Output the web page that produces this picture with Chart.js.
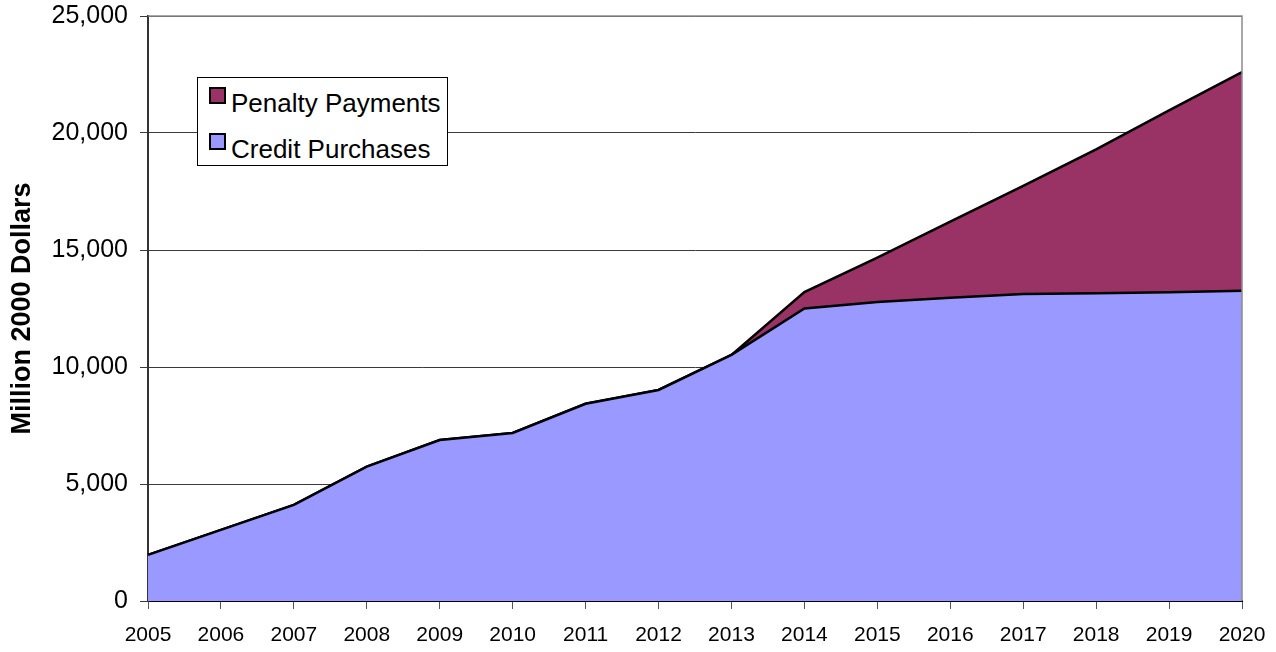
<!DOCTYPE html>
<html lang="en">
<head>
    <meta charset="UTF-8">
    <title>Credit Purchases and Penalty Payments</title>
    <script src="https://cdn.jsdelivr.net/npm/chart.js"></script>
    <style>
        body { margin: 0; background: #fff; font-family: "Liberation Sans", Arial, sans-serif; }
        .wrap { position: relative; width: 1276px; height: 652px; }
        .legenda {
            position: absolute; left: 197px; top: 77px; width: 249px; height: 87px;
            border: 1px solid #000; background: #fff; box-sizing: content-box;
        }
        .item { position: absolute; left: 11px; height: 30px; font-size: 26px; line-height: 30px; color: #000; white-space: nowrap; }
        .item span {
            display: inline-block; width: 13px; height: 13px; border: 2px solid #000;
            margin-right: 5px; vertical-align: 8px;
        }
    </style>
</head>
<body>
    <div class="wrap">
        <canvas id="myChart" width="1276" height="652"></canvas>
        <div class="legenda">
            <div class="item" style="top: 9px;"><span style="background:#993366"></span>Penalty Payments</div>
            <div class="item" style="top: 55px;"><span style="background:#9999FF"></span>Credit Purchases</div>
        </div>
    </div>

<script>
    // dados (milhoes de dolares de 2000)
    const anos = ['2005', '2006', '2007', '2008', '2009', '2010', '2011', '2012',
        '2013', '2014', '2015', '2016', '2017', '2018', '2019', '2020'];

    const creditPurchases = [1970, 3040, 4110, 5740, 6880, 7180, 8430, 9020,
        10520, 12500, 12780, 12960, 13120, 13150, 13190, 13260];

    const penaltyPayments = [0, 0, 0, 0, 0, 0, 0, 0,
        0, 700, 1890, 3250, 4620, 6150, 7780, 9340];

    const yTicks = [0, 5000, 10000, 15000, 20000, 25000];

    // borda superior/direita da area do grafico
    const bordaArea = {
        id: 'bordaArea',
        afterDraw(chart) {
            const { ctx, chartArea } = chart;
            ctx.save();
            ctx.strokeStyle = '#8c8c8c';
            ctx.lineWidth = 1.5;
            ctx.beginPath();
            ctx.moveTo(chartArea.left, chartArea.top);
            ctx.lineTo(chartArea.right, chartArea.top);
            ctx.lineTo(chartArea.right, chartArea.bottom);
            ctx.stroke();
            ctx.restore();
        }
    };

    const dados = {
        labels: anos,
        datasets: [{
            label: 'Credit Purchases',
            data: creditPurchases,
            fill: 'origin',
            backgroundColor: '#9999FF',
            borderColor: '#000',
            borderWidth: 2.5,
            pointRadius: 0,
            tension: 0
        }, {
            label: 'Penalty Payments',
            data: penaltyPayments,
            fill: '-1',
            backgroundColor: '#993366',
            borderColor: '#000',
            borderWidth: 2.5,
            pointRadius: 0,
            tension: 0
        }]
    };

    const config = {
        type: 'line',
        data: dados,
        plugins: [bordaArea],
        options: {
            responsive: false,
            animation: false,
            layout: { padding: { top: 16, right: 34, left: 0, bottom: 0 } },
            plugins: {
                legend: { display: false },
                tooltip: { enabled: false }
            },
            scales: {
                x: {
                    offset: false,
                    grid: { drawOnChartArea: false, drawTicks: true, tickLength: 8, color: '#555' },
                    border: { color: '#000', width: 2 },
                    ticks: {
                        color: '#000', padding: 14, maxRotation: 0, autoSkip: false,
                        font: { family: 'Liberation Sans', size: 21 }
                    },
                    afterFit(scale) {
                        scale.height = 51;
                        scale.paddingLeft = 0;
                        scale.paddingRight = 0;
                    }
                },
                y: {
                    stacked: true,
                    min: 0,
                    max: 25000,
                    afterBuildTicks(scale) { scale.ticks = yTicks.map(v => ({ value: v })); },
                    grid: { color: '#3a3a3a', lineWidth: 1, tickLength: 8 },
                    border: { color: '#333', width: 2 },
                    ticks: {
                        color: '#000', padding: 12,
                        font: { family: 'Liberation Sans', size: 25 },
                        callback: v => v.toLocaleString('en-US')
                    },
                    title: {
                        display: true,
                        text: 'Million 2000 Dollars',
                        color: '#000',
                        padding: { top: 6, bottom: 0 },
                        font: { family: 'Liberation Sans', size: 27, weight: 'bold' }
                    },
                    afterFit(scale) {
                        scale.width = 148;
                        scale.paddingTop = 0;
                        scale.paddingBottom = 0;
                    }
                }
            }
        }
    };

    let myChart = new Chart(document.getElementById('myChart'), config);
</script>
</body>
</html>
